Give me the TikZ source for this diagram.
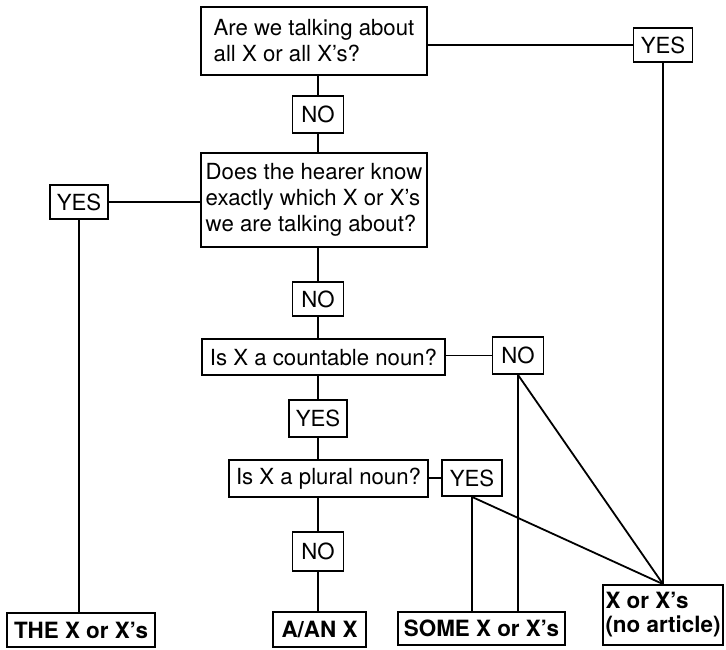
\documentclass[tikz,border=0pt]{standalone}
\usepackage{fontspec}
\setmainfont{TeX Gyre Heros}
\begin{document}
\begin{tikzpicture}[x=1pt,y=-1pt,
  box/.style={draw, line width=1.8pt, inner sep=0pt, align=center,
    font=\fontsize{22.2}{26}\selectfont},
  ans/.style={box, font=\bfseries\fontsize{22.4}{24}\selectfont},
  conn/.style={line width=1.8pt}]
\useasboundingbox (0,0) rectangle (726,650);
% questions
\node[box, minimum width=226, minimum height=68, align=left] (q1) at (314,41)
  {Are we talking about\\all X or all X’s?};
\node[box, minimum width=226, minimum height=94, align=left] (q2) at (314,200)
  {Does the hearer know\\exactly which X or X’s\\we are talking about?};
\node[box, minimum width=243, minimum height=36] (q3) at (323.5,357) {Is X a countable noun?};
\node[box, minimum width=199, minimum height=37] (q4) at (328.5,478.5) {Is X a plural noun?};
% answers yes/no
\node[box, minimum width=51, minimum height=37] (no1) at (318,114.5) {NO};
\node[box, minimum width=59, minimum height=34] (yesR) at (663,45) {YES};
\node[box, minimum width=58, minimum height=34] (yesL) at (79,202) {YES};
\node[box, minimum width=51, minimum height=34] (no2) at (318,299) {NO};
\node[box, minimum width=51, minimum height=37] (no3) at (518,355.5) {NO};
\node[box, minimum width=58, minimum height=37] (yes3) at (318,418.5) {YES};
\node[box, minimum width=60, minimum height=36] (yes4) at (472,478) {YES};
\node[box, minimum width=51, minimum height=39] (no4) at (318,551.5) {NO};
% results
\node[ans, minimum width=148, minimum height=34] (the) at (81,630) {THE X or X’s};
\node[ans, minimum width=93, minimum height=35] (aan) at (319.5,629.5) {A/AN X};
\node[ans, minimum width=167, minimum height=33] (some) at (481.5,628.5) {SOME X or X’s};
\node[ans, minimum width=120, minimum height=60, align=left] (xx) at (663,615)
  {X or X’s\\(no article)};
% connectors
\draw[conn] (yesR.west) -- (yesR.west -| q1.east);
\draw[conn] (yesR.south) -- (xx.north);
\draw[conn] (no1.north) -- (no1.north |- q1.south);
\draw[conn] (no1.south) -- (no1.south |- q2.north);
\draw[conn] (yesL.east) -- (yesL.east -| q2.west);
\draw[conn] (yesL.south) -- (yesL.south |- the.north);
\draw[conn] (no2.north) -- (no2.north |- q2.south);
\draw[conn] (no2.south) -- (no2.south |- q3.north);
\draw[conn] (no3.west) -- (no3.west -| q3.east);
\draw[conn] (yes3.north) -- (yes3.north |- q3.south);
\draw[conn] (yes3.south) -- (yes3.south |- q4.north);
\draw[conn] (yes4.west) -- (yes4.west -| q4.east);
\draw[conn] (no4.north) -- (no4.north |- q4.south);
\draw[conn] (no4.south) -- (no4.south |- aan.north);
\draw[conn] (no3.south) -- (no3.south |- some.north);
\draw[conn] (no3.south) -- (xx.north);
\draw[conn] (yes4.south) -- (yes4.south |- some.north);
\draw[conn] (yes4.south) -- (xx.north);
\end{tikzpicture}
\end{document}
